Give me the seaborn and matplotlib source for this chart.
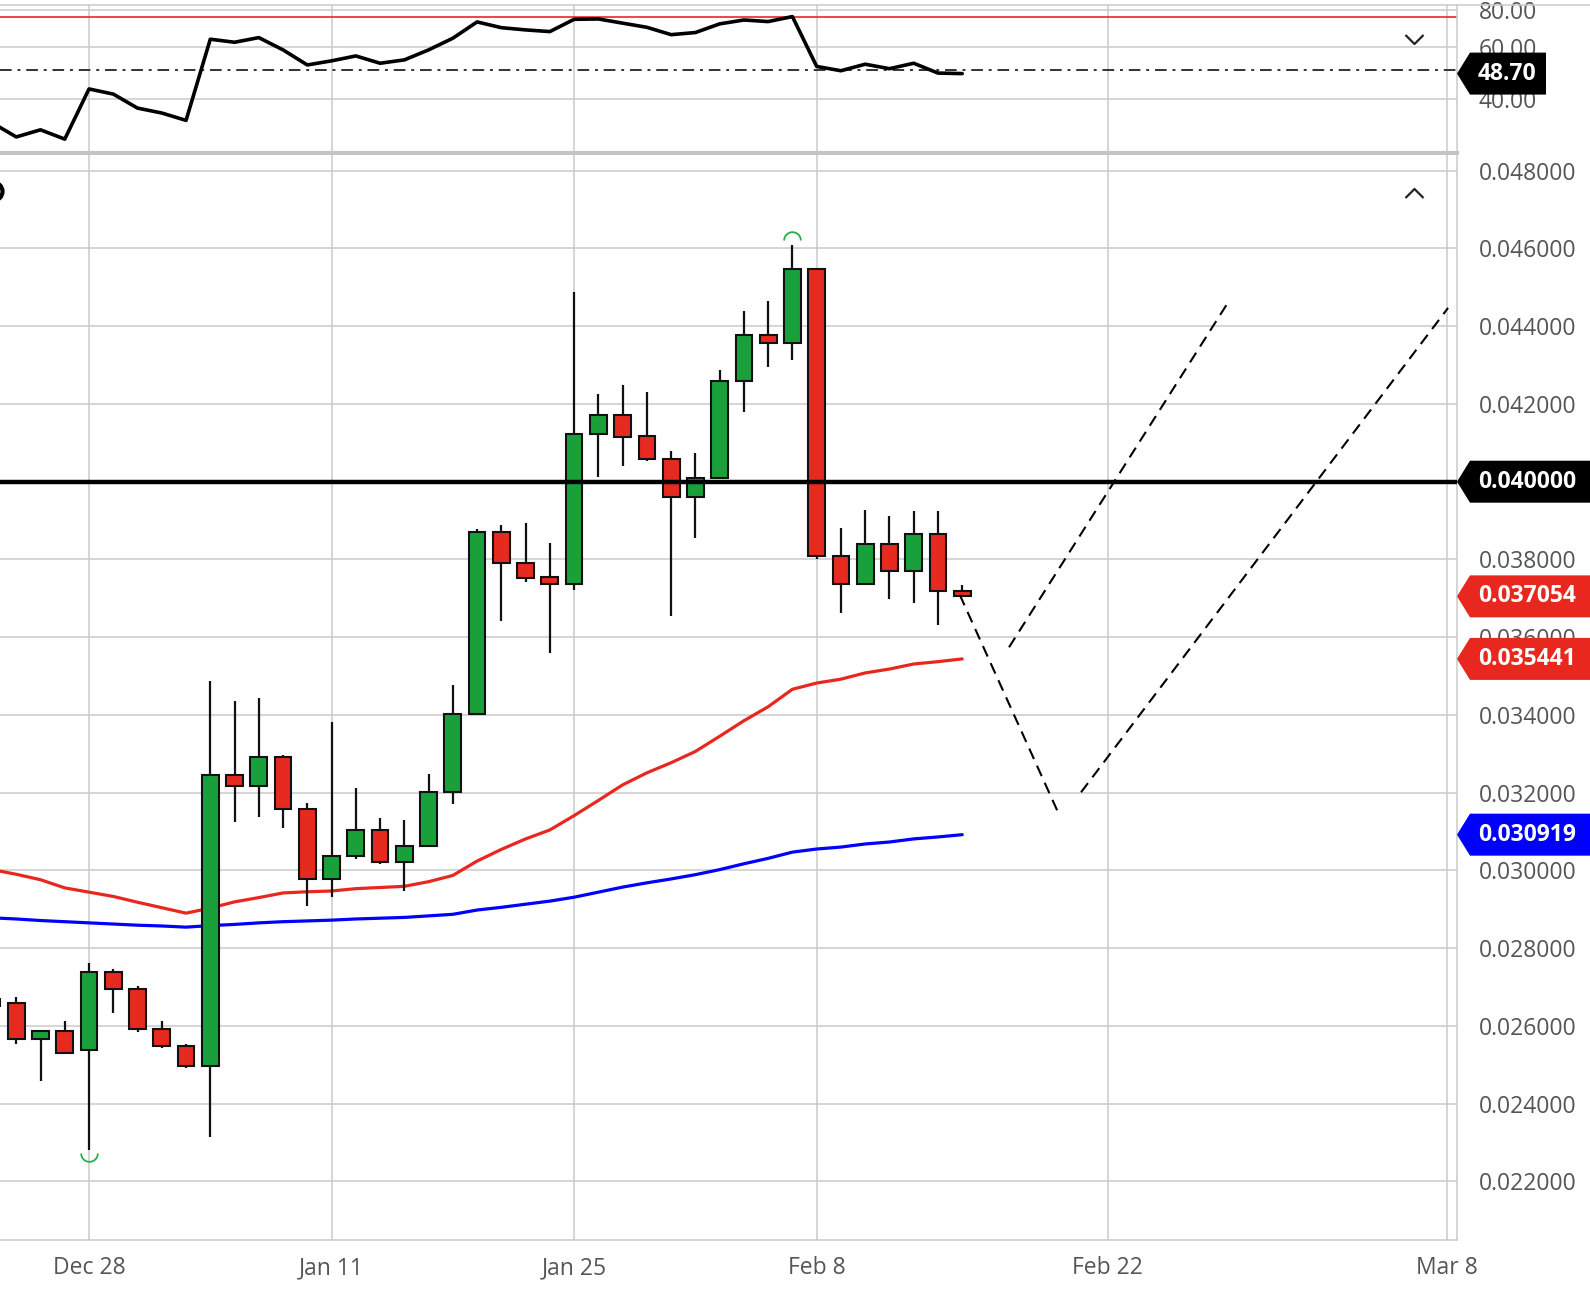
import numpy as np
import pandas as pd
import matplotlib
matplotlib.use("Agg")
import matplotlib.pyplot as plt
from matplotlib.patches import Polygon
from matplotlib.path import Path
from matplotlib.transforms import IdentityTransform
from matplotlib.lines import Line2D
import seaborn as sns

# ---- data (x = trading-day index, Dec 28 = 0) ----
candle_idx = list(range(-4, 37))
opens = [0.02650, 0.02660, 0.02566, 0.02588, 0.02537, 0.02738, 0.02695, 0.02591, 0.02549, 0.02498,
         0.03246, 0.03216, 0.03293, 0.03158, 0.02978, 0.03036, 0.03104, 0.03021, 0.03063, 0.03201,
         0.03403, 0.03871, 0.03792, 0.03754, 0.03736, 0.04122, 0.04172, 0.04118, 0.04059, 0.03961,
         0.04009, 0.04258, 0.04378, 0.04358, 0.04546, 0.03809, 0.03736, 0.03840, 0.03771, 0.03865,
         0.03719]
highs = [0.02680, 0.02675, 0.02590, 0.02613, 0.02763, 0.02746, 0.02703, 0.02613, 0.02553, 0.03487,
         0.03436, 0.03443, 0.03297, 0.03173, 0.03383, 0.03211, 0.03136, 0.03130, 0.03248, 0.03477,
         0.03878, 0.03888, 0.03893, 0.03841, 0.04488, 0.04226, 0.04249, 0.04232, 0.04079, 0.04073,
         0.04288, 0.04438, 0.04464, 0.04608, 0.04546, 0.03880, 0.03927, 0.03912, 0.03925, 0.03925,
         0.03733]
lows = [0.02620, 0.02554, 0.02458, 0.02530, 0.02281, 0.02634, 0.02584, 0.02542, 0.02491, 0.02314,
        0.03124, 0.03137, 0.03108, 0.02909, 0.02931, 0.03029, 0.03017, 0.02947, 0.03063, 0.03171,
        0.03403, 0.03642, 0.03742, 0.03559, 0.03721, 0.04013, 0.04040, 0.04053, 0.03654, 0.03854,
        0.04009, 0.04180, 0.04295, 0.04314, 0.03802, 0.03662, 0.03736, 0.03697, 0.03688, 0.03632,
        0.03704]
closes = [0.02670, 0.02566, 0.02588, 0.02530, 0.02738, 0.02695, 0.02591, 0.02548, 0.02498, 0.03246,
          0.03216, 0.03293, 0.03158, 0.02978, 0.03036, 0.03104, 0.03021, 0.03063, 0.03201, 0.03403,
          0.03871, 0.03791, 0.03753, 0.03736, 0.04123, 0.04172, 0.04116, 0.04058, 0.03961, 0.04009,
          0.04258, 0.04378, 0.04358, 0.04546, 0.03808, 0.03736, 0.03840, 0.03771, 0.03865, 0.03718,
          0.03705]
ma_fast = [0.03002, 0.02990, 0.02976, 0.02955, 0.02944, 0.02933, 0.02918, 0.02904, 0.02890, 0.02903,
           0.02919, 0.02930, 0.02942, 0.02945, 0.02947, 0.02953, 0.02956, 0.02959, 0.02971, 0.02987,
           0.03024, 0.03054, 0.03081, 0.03104, 0.03141, 0.03180, 0.03220, 0.03251, 0.03277, 0.03306,
           0.03345, 0.03385, 0.03421, 0.03466, 0.03482, 0.03492, 0.03508, 0.03518, 0.03531, 0.03537,
           0.035441]
ma_slow = [0.02878, 0.02875, 0.02871, 0.02868, 0.02865, 0.02862, 0.02859, 0.02857, 0.02854, 0.02858,
           0.02861, 0.02865, 0.02868, 0.02870, 0.02872, 0.02875, 0.02877, 0.02879, 0.02883, 0.02887,
           0.02898, 0.02905, 0.02913, 0.02921, 0.02931, 0.02944, 0.02957, 0.02968, 0.02978, 0.02989,
           0.03002, 0.03017, 0.03031, 0.03047, 0.03055, 0.03060, 0.03068, 0.03073, 0.03081, 0.03086,
           0.030919]
rsi = [33.2, 29.7, 31.4, 29.2, 43.2, 41.5, 37.2, 35.8, 33.8, 63.7,
       62.2, 64.5, 58.6, 52.1, 53.8, 55.9, 52.8, 54.2, 58.6, 64.2,
       72.9, 69.7, 68.5, 67.6, 74.4, 74.6, 72.2, 69.9, 66.0, 67.1,
       71.8, 74.0, 73.1, 76.0, 51.5, 49.8, 52.4, 50.6, 52.8, 48.9,
       48.7]
rsi_upper = 75.5
rsi_mid = 50
level = 0.040

# drawn projection lines (x index, price)
proj_a_x, proj_a_y = [35.9, 39.94], [0.03709, 0.03151]
proj_b_x, proj_b_y = [37.93, 47.0], [0.03574, 0.04465]
proj_c_x, proj_c_y = [40.9, 56.03], [0.03201, 0.04447]

swing_high = (29, 0.04622)
swing_low = (0, 0.02273)

tick_pos = [0, 10, 20, 30, 42, 56]
tick_labels = ["Dec 28", "Jan 11", "Jan 25", "Feb 8", "Feb 22", "Mar 8"]
price_ticks = [0.022, 0.024, 0.026, 0.028, 0.030, 0.032, 0.034, 0.036, 0.038, 0.040,
               0.042, 0.044, 0.046, 0.048]
rsi_ticks = [40, 60, 80]

# ---- style ----
sns.set_theme(style="white")
plt.rcParams['font.family'] = ['Open Sans', 'DejaVu Sans']

GREEN = '#1aa03a'
RED = '#e62a20'
BLUE = '#0000ff'
GRID = '#cacaca'
TXT = '#555555'

W, H = 1590, 1304
fig = plt.figure(figsize=(W / 100, H / 100), dpi=100)
fig.patch.set_facecolor('white')

ax_right = 1457
ax_rsi = fig.add_axes([0, 1 - 153 / H, ax_right / W, (153 - 5) / H])
ax = fig.add_axes([0, 1 - 1240 / H, ax_right / W, (1240 - 155) / H])

xlim = (-3.67, 56.4)

df = pd.DataFrame({"idx": candle_idx, "open": opens, "high": highs, "low": lows,
                   "close": closes, "ma_fast": ma_fast, "ma_slow": ma_slow, "rsi": rsi})

# ---- price panel ----
ax.set_xlim(*xlim)
ax.set_ylim(0.020491, 0.048405)
for t in tick_pos:
    ax.axvline(t, color=GRID, lw=1.1, zorder=0)
for p in price_ticks:
    ax.axhline(p, color=GRID, lw=1.1, zorder=0)

sns.lineplot(data=df, x="idx", y="ma_fast", ax=ax, color='#e8281e', lw=2.3, zorder=2)
sns.lineplot(data=df, x="idx", y="ma_slow", ax=ax, color=BLUE, lw=2.3, zorder=2)

up = df["close"] >= df["open"]
body_bottom = np.minimum(df["open"], df["close"])
body_height = np.abs(df["close"] - df["open"])
ax.vlines(df["idx"], df["low"], df["high"], color='#111111', lw=1.6, zorder=3)
ax.bar(df["idx"], body_height, bottom=body_bottom, width=0.69,
       color=np.where(up, GREEN, RED), edgecolor='#111111', linewidth=1.5, zorder=4)

ax.axhline(level, color='black', lw=3.2, zorder=5)

for px, py in [(proj_a_x, proj_a_y), (proj_b_x, proj_b_y), (proj_c_x, proj_c_y)]:
    ax.plot(px, py, color='black', lw=1.5, dashes=(5.5, 3.5), zorder=5)

t = np.linspace(0, np.pi, 30)
arc_up = Path(np.column_stack([np.cos(t), np.sin(t)]))
arc_down = Path(np.column_stack([np.cos(t), -np.sin(t)]))
ax.plot([swing_high[0]], [swing_high[1]], marker=arc_up, ms=12, mfc='none',
        mec='#22b04a', mew=1.3, ls='none', zorder=6)
ax.plot([swing_low[0]], [swing_low[1]], marker=arc_down, ms=12, mfc='none',
        mec='#22b04a', mew=1.3, ls='none', zorder=6)

chev_up = Path([(-1, -0.5), (0, 0.5), (1, -0.5)], [Path.MOVETO, Path.LINETO, Path.LINETO])
chev_down = Path([(-1, 0.5), (0, -0.5), (1, 0.5)], [Path.MOVETO, Path.LINETO, Path.LINETO])
ax.plot([0.9705], [0.965], transform=ax.transAxes, marker=chev_up, ms=13, mfc='none',
        mec='#222222', mew=1.6, ls='none')
ax.plot([-0.0046], [0.9668], transform=ax.transAxes, marker='o', ms=13, mfc='none',
        mec='black', mew=3, ls='none', clip_on=True)

ax.yaxis.tick_right()
ax.set_yticks(price_ticks)
ax.set_yticklabels([f"{p:.6f}" for p in price_ticks])
ax.set_xticks(tick_pos)
ax.set_xticklabels(tick_labels)
ax.tick_params(axis='y', length=0, pad=15.5, labelsize=16.5, labelcolor=TXT)
ax.tick_params(axis='x', length=6.5, width=1.1, color=GRID, pad=5, labelsize=16.5, labelcolor=TXT)
ax.set_xlabel("")
ax.set_ylabel("")
for s in ['left', 'top']:
    ax.spines[s].set_visible(False)
for s in ['bottom', 'right']:
    ax.spines[s].set_color(GRID)
    ax.spines[s].set_linewidth(1.1)

# ---- oscillator panel ----
ax_rsi.set_yscale('log')
ax_rsi.set_xlim(*xlim)
ax_rsi.set_ylim(26.2, 83.2)
for tp in tick_pos:
    ax_rsi.axvline(tp, color=GRID, lw=1.1, zorder=0)
for r in rsi_ticks:
    ax_rsi.axhline(r, color=GRID, lw=1.1, zorder=0)
ax_rsi.axhline(rsi_upper, color=RED, lw=1.2, zorder=1)
ax_rsi.axhline(rsi_mid, color='#333333', lw=1.4, dashes=(6, 3, 1.5, 3), zorder=1)
sns.lineplot(data=df, x="idx", y="rsi", ax=ax_rsi, color='black', lw=2.6, zorder=3)
ax_rsi.plot([0.9705], [0.77], transform=ax_rsi.transAxes, marker=chev_down, ms=13, mfc='none',
            mec='#222222', mew=1.6, ls='none')

ax_rsi.yaxis.tick_right()
ax_rsi.yaxis.set_minor_locator(matplotlib.ticker.NullLocator())
ax_rsi.set_yticks(rsi_ticks)
ax_rsi.set_yticklabels([f"{r:.2f}" for r in rsi_ticks])
ax_rsi.set_xticks([])
ax_rsi.tick_params(axis='y', which='both', length=0, pad=15.5, labelsize=16.5, labelcolor=TXT)
ax_rsi.set_xlabel("")
ax_rsi.set_ylabel("")
for s in ['left', 'top']:
    ax_rsi.spines[s].set_visible(False)
ax_rsi.spines['right'].set_color(GRID)
ax_rsi.spines['right'].set_linewidth(1.1)
ax_rsi.spines['bottom'].set_color('#c4c4c4')
ax_rsi.spines['bottom'].set_linewidth(3)

fig.add_artist(Line2D([0, 1], [1 - 5 / H, 1 - 5 / H], transform=fig.transFigure,
                      color=GRID, lw=1.1))


# ---- value tags on the right ----
def draw_tag(axis, value, label, color, right_px):
    y = axis.transData.transform((0, value))[1]
    tip = ax_right
    poly = Polygon([(tip, y), (tip + 13, y + 21), (right_px, y + 21),
                    (right_px, y - 21), (tip + 13, y - 21)], closed=True,
                   transform=IdentityTransform(), facecolor=color, edgecolor='none', zorder=5)
    fig.add_artist(poly)
    fig.text(1478, y, label, transform=IdentityTransform(), color='white',
             fontsize=16.5, fontweight='bold', ha='left', va='center', zorder=6)


draw_tag(ax, level, f"{level:.6f}", 'black', W)
draw_tag(ax, closes[-1], "0.037054", '#e8281e', W)
draw_tag(ax, ma_fast[-1], f"{ma_fast[-1]:.6f}", '#e8281e', W)
draw_tag(ax, ma_slow[-1], f"{ma_slow[-1]:.6f}", BLUE, W)
draw_tag(ax_rsi, rsi[-1], f"{rsi[-1]:.2f}", 'black', 1546)

fig.savefig("out.png", dpi=100)
